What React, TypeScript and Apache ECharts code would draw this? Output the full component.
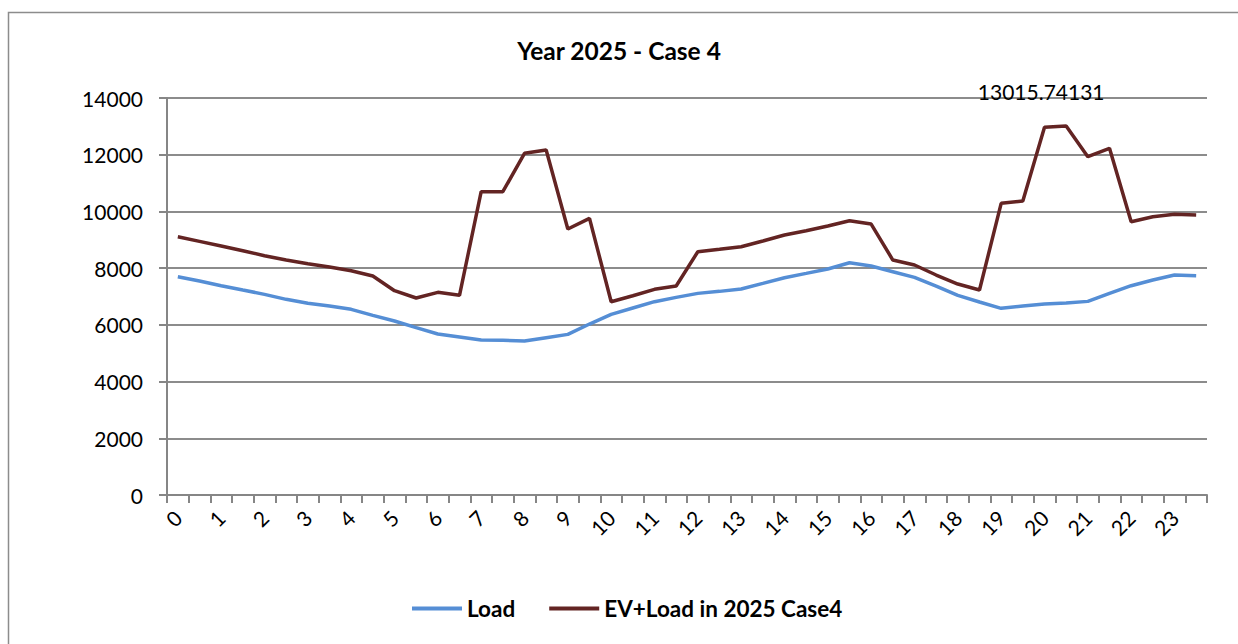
import React, { useEffect, useRef } from "react";
import * as echarts from "echarts";

const title = "Year 2025 - Case 4";
const seriesNames = ["Load", "EV+Load in 2025 Case4"];

// half-hour slots 0:00 .. 23:30
const slots: string[] = [
  "0:00", "0:30", "1:00", "1:30", "2:00", "2:30", "3:00", "3:30",
  "4:00", "4:30", "5:00", "5:30", "6:00", "6:30", "7:00", "7:30",
  "8:00", "8:30", "9:00", "9:30", "10:00", "10:30", "11:00", "11:30",
  "12:00", "12:30", "13:00", "13:30", "14:00", "14:30", "15:00", "15:30",
  "16:00", "16:30", "17:00", "17:30", "18:00", "18:30", "19:00", "19:30",
  "20:00", "20:30", "21:00", "21:30", "22:00", "22:30", "23:00", "23:30",
];
const hourLabels: string[] = [
  "0", "1", "2", "3", "4", "5", "6", "7", "8", "9", "10", "11",
  "12", "13", "14", "15", "16", "17", "18", "19", "20", "21", "22", "23",
];

const loadValues: number[] = [
  7698, 7546, 7381, 7228, 7076, 6900, 6759, 6664,
  6547, 6336, 6135, 5900, 5677, 5571, 5465, 5454,
  5430, 5547, 5665, 6029, 6370, 6594, 6817, 6970,
  7110, 7181, 7264, 7463, 7663, 7815, 7969, 8192,
  8075, 7875, 7675, 7369, 7040, 6805, 6582, 6664,
  6735, 6770, 6828, 7111, 7381, 7581, 7757, 7734,
];
const evLoadValues: number[] = [
  9108, 8945, 8780, 8615, 8438, 8286, 8156, 8039,
  7910, 7722, 7204, 6946, 7147, 7041, 10695, 10695,
  12048, 12165, 9379, 9756, 6816, 7028, 7253, 7369,
  8580, 8663, 8756, 8956, 9168, 9320, 9485, 9673,
  9555, 8286, 8110, 7757, 7440, 7228, 10285, 10366,
  12965, 13015.74131, 11929, 12224, 9637, 9813, 9897, 9873,
];
const labelledIndex = 41;

const yTicks = { min: 0, max: 14000, interval: 2000 };

const FONT = "Lato";

export default function App() {
  const ref = useRef<HTMLDivElement>(null);
  useEffect(() => {
    if (!ref.current) return;
    const chart = echarts.init(ref.current, null, { renderer: "svg" });
    chart.setOption({
      animation: false,
      backgroundColor: "#fff",
      textStyle: { fontFamily: FONT },
      title: {
        text: title,
        left: "center",
        top: 33,
        textStyle: { fontFamily: FONT, fontWeight: "bold", fontSize: 24.5, color: "#000" },
      },
      graphic: [
        {
          type: "rect",
          shape: { x: 8.5, y: 12.5, width: 1260, height: 720 },
          style: { fill: "none", stroke: "#8c8c8c", lineWidth: 1.5 },
          silent: true,
        },
      ],
      legend: {
        bottom: 19,
        left: 407,
        icon: "rect",
        itemWidth: 50,
        itemHeight: 4,
        itemGap: 34,
        textStyle: { fontFamily: FONT, fontWeight: "bold", fontSize: 22.5, color: "#000" },
        data: seriesNames,
      },
      grid: { left: 167, right: 31, top: 98, bottom: 149, containLabel: false },
      xAxis: {
        type: "category",
        data: slots,
        boundaryGap: true,
        axisLine: { lineStyle: { color: "#868686", width: 2 } },
        axisTick: { show: true, interval: 0, length: 8, lineStyle: { color: "#868686", width: 2 } },
        axisLabel: {
          interval: 1,
          rotate: 45,
          margin: 19,
          fontFamily: FONT,
          fontSize: 21,
          color: "#000",
          formatter: (_v: string, idx: number) => hourLabels[Math.floor(idx / 2)],
        },
        splitLine: { show: false },
      },
      yAxis: {
        type: "value",
        min: yTicks.min,
        max: yTicks.max,
        interval: yTicks.interval,
        axisLine: { show: true, lineStyle: { color: "#868686", width: 2 } },
        axisTick: { show: true, length: 8, lineStyle: { color: "#868686", width: 2 } },
        axisLabel: {
          margin: 24,
          fontFamily: FONT,
          fontSize: 21,
          color: "#000",
          formatter: (v: number) => String(v),
        },
        splitLine: { show: true, lineStyle: { color: "#8c8c8c", width: 2 } },
      },
      series: [
        {
          name: seriesNames[0],
          type: "line",
          data: loadValues,
          symbol: "none",
          lineStyle: { color: "#558ED5", width: 3.5 },
          itemStyle: { color: "#558ED5" },
        },
        {
          name: seriesNames[1],
          type: "line",
          data: evLoadValues,
          symbol: "none",
          lineStyle: { color: "#632423", width: 3.5 },
          itemStyle: { color: "#632423" },
          markPoint: {
            silent: true,
            symbol: "circle",
            symbolSize: 1,
            itemStyle: { color: "rgba(0,0,0,0)" },
            label: {
              show: true,
              position: "top",
              distance: 0,
              offset: [-25, -23],
              formatter: (p: any) => String(p.value),
              color: "#000",
              fontFamily: FONT,
              fontSize: 21,
            },
            data: [
              {
                coord: [labelledIndex, evLoadValues[labelledIndex]],
                value: evLoadValues[labelledIndex],
              },
            ],
          },
        },
      ],
    });
    return () => chart.dispose();
  }, []);
  return (
    <div style={{ position: "fixed", left: 0, top: 0, width: 1238, height: 644, background: "#fff" }}>
      <div ref={ref} style={{ width: 1238, height: 644 }} />
    </div>
  );
}
